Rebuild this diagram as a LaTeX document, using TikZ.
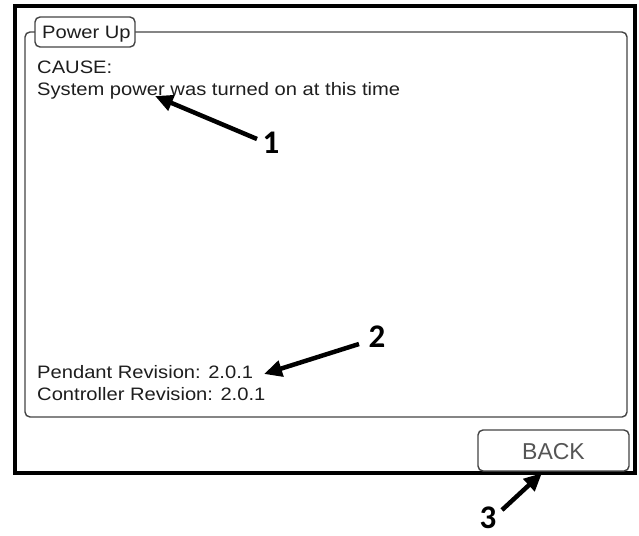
\documentclass[tikz,border=0pt]{standalone}
\usepackage{fontspec}
\setmainfont{Liberation Sans}
\newfontfamily\lcd[FakeStretch=1.12]{Liberation Sans}
\newfontfamily\callout{Carlito}
\usetikzlibrary{arrows.meta}
\definecolor{uigray}{HTML}{444444}
\definecolor{uitext}{HTML}{1E1E1E}
\definecolor{btntext}{HTML}{555555}
\tikzset{
  frame/.style={draw=black, line width=4pt},
  panel/.style={draw=uigray, line width=1.4pt, rounded corners=5pt},
  uilabel/.style={anchor=base west, inner sep=0pt, text=uitext, font=\lcd\fontsize{18}{20}\selectfont},
  calloutnum/.style={inner sep=0pt, font=\callout\bfseries\fontsize{33}{35}\selectfont},
  pointer/.style={line width=4.5pt, -{Triangle[length=18pt,width=16pt]}},
}
\begin{document}
\begin{tikzpicture}[x=1pt,y=-1pt]
\useasboundingbox (0,0) rectangle (639,535);
\fill[white] (0,0) rectangle (639,535);
% outer screen frame
\draw[frame] (14.5,6.5) rectangle (635,473);
% panel outline
\draw[panel] (135,32) -- (627,32) -- (627,417) -- (25,417) -- (25,32) -- (35,32);
\node[draw=uigray, line width=1.4pt, rounded corners=5pt, minimum width=100pt, minimum height=30pt, inner sep=0pt, fill=white] (title) at (85,32) {};
\node[uilabel] (ttext) at (42,38) {Power Up};
% texts
\node[uilabel] (cause) at (37,73) {CAUSE:};
\node[uilabel] (msg) at (37,95) {System power was turned on at this time};
\node[uilabel] (pend) at (37,378) {Pendant Revision: 2.0.1};
\node[uilabel] (ctrl) at (37,400) {Controller Revision: 2.0.1};
% back button
\node[draw=uigray, line width=1.4pt, rounded corners=5pt, minimum width=151pt, minimum height=41pt, inner sep=0pt, fill=white] (back) at (553.5,450.5) {};
\node[inner sep=0pt, text=btntext, font=\fontsize{23}{25}\selectfont] (backtxt) at (553.5,452) {BACK};
% callouts
\node[calloutnum] (c1) at (271,143) {1};
\node[calloutnum] (c2) at (377,337) {2};
\node[calloutnum] (c3) at (488,518) {3};
\coordinate (t1) at (155,96);
\coordinate (t2) at (264,374);
\coordinate (t3) at (542,473);
\coordinate (s1) at (257,139);
\coordinate (s2) at (359,344);
\coordinate (s3) at (502,510);
\draw[pointer] (s1) -- (t1);
\draw[pointer] (s2) -- (t2);
\draw[pointer] (s3) -- (t3);
\end{tikzpicture}
\end{document}
